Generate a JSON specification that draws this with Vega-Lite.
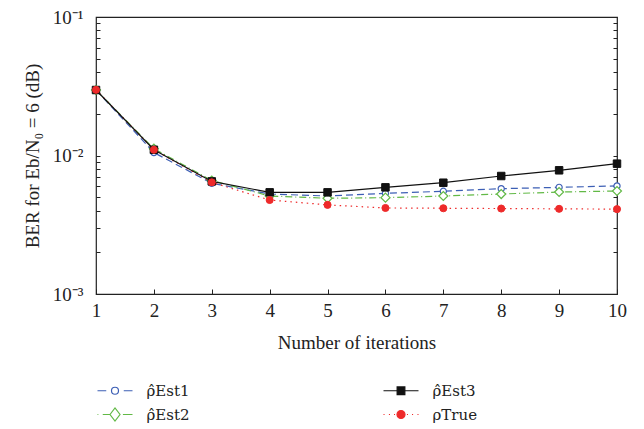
{
  "$schema": "https://vega.github.io/schema/vega-lite/v6.json",
  "width": 521,
  "height": 277,
  "autosize": "none",
  "padding": {"left": 96, "top": 17, "right": 27, "bottom": 135},
  "background": "white",
  "config": {
    "view": {"stroke": "#222", "strokeWidth": 1.2},
    "font": "Liberation Serif",
    "axis": {"grid": false, "domain": false, "labelFont": "Liberation Serif", "titleFont": "Liberation Serif", "labelColor": "#222", "titleColor": "#222", "titleFontWeight": "normal", "tickColor": "#222"},
    "legend": {"orient": "none", "legendX": 11.5, "legendY": 366, "columns": 2, "direction": "horizontal", "columnPadding": 190, "rowPadding": 6, "padding": 0, "symbolSize": 100, "symbolStrokeWidth": 1.2, "symbolOpacity": 1, "labelFont": "DejaVu Serif", "labelFontSize": 15, "labelOffset": 24, "labelColor": "#222"}
  },
  "data": {
    "values": [
      {"iter": 1, "series": "Est1", "ber": 0.0297},
      {"iter": 2, "series": "Est1", "ber": 0.0105},
      {"iter": 3, "series": "Est1", "ber": 0.0063},
      {"iter": 4, "series": "Est1", "ber": 0.00527},
      {"iter": 5, "series": "Est1", "ber": 0.0051},
      {"iter": 6, "series": "Est1", "ber": 0.00533},
      {"iter": 7, "series": "Est1", "ber": 0.00552},
      {"iter": 8, "series": "Est1", "ber": 0.00576},
      {"iter": 9, "series": "Est1", "ber": 0.00589},
      {"iter": 10, "series": "Est1", "ber": 0.00603},
      {"iter": 1, "series": "Est2", "ber": 0.0297},
      {"iter": 2, "series": "Est2", "ber": 0.0112},
      {"iter": 3, "series": "Est2", "ber": 0.0066},
      {"iter": 4, "series": "Est2", "ber": 0.0051},
      {"iter": 5, "series": "Est2", "ber": 0.00491},
      {"iter": 6, "series": "Est2", "ber": 0.00496},
      {"iter": 7, "series": "Est2", "ber": 0.0051},
      {"iter": 8, "series": "Est2", "ber": 0.00527},
      {"iter": 9, "series": "Est2", "ber": 0.00545},
      {"iter": 10, "series": "Est2", "ber": 0.00554},
      {"iter": 1, "series": "Est3", "ber": 0.0297},
      {"iter": 2, "series": "Est3", "ber": 0.011},
      {"iter": 3, "series": "Est3", "ber": 0.0065},
      {"iter": 4, "series": "Est3", "ber": 0.00542},
      {"iter": 5, "series": "Est3", "ber": 0.00542},
      {"iter": 6, "series": "Est3", "ber": 0.00589},
      {"iter": 7, "series": "Est3", "ber": 0.00636},
      {"iter": 8, "series": "Est3", "ber": 0.00711},
      {"iter": 9, "series": "Est3", "ber": 0.00782},
      {"iter": 10, "series": "Est3", "ber": 0.00873},
      {"iter": 1, "series": "True", "ber": 0.0298},
      {"iter": 2, "series": "True", "ber": 0.011},
      {"iter": 3, "series": "True", "ber": 0.0064},
      {"iter": 4, "series": "True", "ber": 0.00477},
      {"iter": 5, "series": "True", "ber": 0.0044},
      {"iter": 6, "series": "True", "ber": 0.00418},
      {"iter": 7, "series": "True", "ber": 0.00416},
      {"iter": 8, "series": "True", "ber": 0.00414},
      {"iter": 9, "series": "True", "ber": 0.00412},
      {"iter": 10, "series": "True", "ber": 0.0041}
    ]
  },
  "encoding": {
    "x": {"field": "iter", "type": "quantitative", "scale": {"domain": [1, 10], "nice": false},
      "axis": {"values": [1,2,3,4,5,6,7,8,9,10], "format": "d", "tickSize": -5, "labelPadding": 12, "labelFlush": false, "labelFontSize": 19, "title": "Number of iterations", "titleFontSize": 19, "titlePadding": 13}}
  },
  "resolve": {"axis": {"y": "independent"}},
  "layer": [
    {
      "transform": [{"filter": "datum.series == 'Est1'"}],
      "mark": {"type": "line", "stroke": "#3d5fb5", "strokeWidth": 1.2, "strokeDash": [7, 4]},
      "encoding": {
        "y": {"field": "ber", "type": "quantitative", "scale": {"type": "log", "domain": [0.001, 0.1], "nice": false},
          "axis": {"orient": "left", "values": [0.001,0.002,0.003,0.004,0.005,0.006,0.007,0.008,0.009,0.01,0.02,0.03,0.04,0.05,0.06,0.07,0.08,0.09,0.1],
            "labelExpr": "datum.value == 0.1 ? '10⁻¹' : datum.value == 0.01 ? '10⁻²' : datum.value == 0.001 ? '10⁻³' : ''",
            "tickSize": -4, "labelPadding": 17, "labelFontSize": 19, "title": "BER for Eb/N₀ = 6 (dB)", "titleFontSize": 19, "titlePadding": 10}}
      }
    },
    {
      "transform": [{"filter": "datum.series == 'Est2'"}],
      "mark": {"type": "line", "stroke": "#62b946", "strokeWidth": 1.2, "strokeDash": [7, 3, 1, 3]},
      "encoding": {
        "y": {"field": "ber", "type": "quantitative", "scale": {"type": "log", "domain": [0.001, 0.1], "nice": false},
          "axis": {"orient": "right", "values": [0.001,0.002,0.003,0.004,0.005,0.006,0.007,0.008,0.009,0.01,0.02,0.03,0.04,0.05,0.06,0.07,0.08,0.09,0.1], "labels": false, "title": null, "tickSize": -4}}
      }
    },
    {
      "transform": [{"filter": "datum.series == 'True'"}],
      "mark": {"type": "line", "stroke": "#ee2a2a", "strokeWidth": 1.2, "strokeDash": [1.5, 4]},
      "encoding": {"y": {"field": "ber", "type": "quantitative", "scale": {"type": "log", "domain": [0.001, 0.1], "nice": false}, "axis": null}}
    },
    {
      "transform": [{"filter": "datum.series == 'Est3'"}],
      "mark": {"type": "line", "stroke": "#111111", "strokeWidth": 1.2},
      "encoding": {"y": {"field": "ber", "type": "quantitative", "scale": {"type": "log", "domain": [0.001, 0.1], "nice": false}, "axis": null}}
    },
    {
      "transform": [{"filter": "datum.series == 'Est1'"}],
      "mark": {"type": "point", "shape": "circle", "size": 38, "stroke": "#3d5fb5", "fill": "white", "strokeWidth": 1.2, "opacity": 1},
      "encoding": {"y": {"field": "ber", "type": "quantitative", "scale": {"type": "log", "domain": [0.001, 0.1], "nice": false}, "axis": null}}
    },
    {
      "transform": [{"filter": "datum.series == 'Est2'"}],
      "mark": {"type": "point", "shape": "diamond", "size": 81, "stroke": "#62b946", "fill": "white", "strokeWidth": 1.2, "opacity": 1},
      "encoding": {"y": {"field": "ber", "type": "quantitative", "scale": {"type": "log", "domain": [0.001, 0.1], "nice": false}, "axis": null}}
    },
    {
      "transform": [{"filter": "datum.series == 'Est3'"}],
      "mark": {"type": "point", "shape": "square", "size": 56, "stroke": "#111111", "fill": "#111111", "strokeWidth": 1, "opacity": 1},
      "encoding": {"y": {"field": "ber", "type": "quantitative", "scale": {"type": "log", "domain": [0.001, 0.1], "nice": false}, "axis": null}}
    },
    {
      "transform": [{"filter": "datum.series == 'True'"}],
      "mark": {"type": "point", "shape": "circle", "size": 50, "stroke": "#ee2a2a", "fill": "#ee2a2a", "strokeWidth": 1, "opacity": 1},
      "encoding": {"y": {"field": "ber", "type": "quantitative", "scale": {"type": "log", "domain": [0.001, 0.1], "nice": false}, "axis": null}}
    },
    {
      "mark": {"type": "point", "opacity": 0},
      "encoding": {
        "y": {"field": "ber", "type": "quantitative", "scale": {"type": "log", "domain": [0.001, 0.1], "nice": false}, "axis": null},
        "shape": {"field": "series", "type": "nominal",
          "scale": {"domain": ["Est1", "Est3", "Est2", "True"], "range": [
            "M-3.5,0L-1.75,0M1.75,0L3.5,0M-0.7,0A0.7,0.7 0 1,0 0.7,0A0.7,0.7 0 1,0 -0.7,0Z",
            "M-3.5,0L3.5,0M-0.77,-0.77L0.77,-0.77L0.77,0.77L-0.77,0.77Z",
            "M-3.5,0L-3.33,0M-2.45,0L-1,0M1.58,0L3.5,0M-1,0L0,-1.3L1,0L0,1.3Z",
            "M-3.5,0L-3.29,0M-2.42,0L-2.2,0M-1.4,0L-1.19,0M1.19,0L1.4,0M2.2,0L2.42,0M3.29,0L3.5,0M-0.8,0A0.8,0.8 0 1,0 0.8,0A0.8,0.8 0 1,0 -0.8,0Z"]},
          "legend": {"title": null, "labelExpr": "datum.value == 'True' ? 'ρTrue' : 'ρ̂' + datum.value"}},
        "stroke": {"field": "series", "type": "nominal",
          "scale": {"domain": ["Est1", "Est3", "Est2", "True"], "range": ["#3d5fb5", "#111111", "#62b946", "#ee2a2a"]},
          "legend": {"title": null, "labelExpr": "datum.value == 'True' ? 'ρTrue' : 'ρ̂' + datum.value"}},
        "fill": {"field": "series", "type": "nominal",
          "scale": {"domain": ["Est1", "Est3", "Est2", "True"], "range": ["white", "#111111", "white", "#ee2a2a"]},
          "legend": {"title": null, "labelExpr": "datum.value == 'True' ? 'ρTrue' : 'ρ̂' + datum.value"}}
      }
    }
  ]
}
